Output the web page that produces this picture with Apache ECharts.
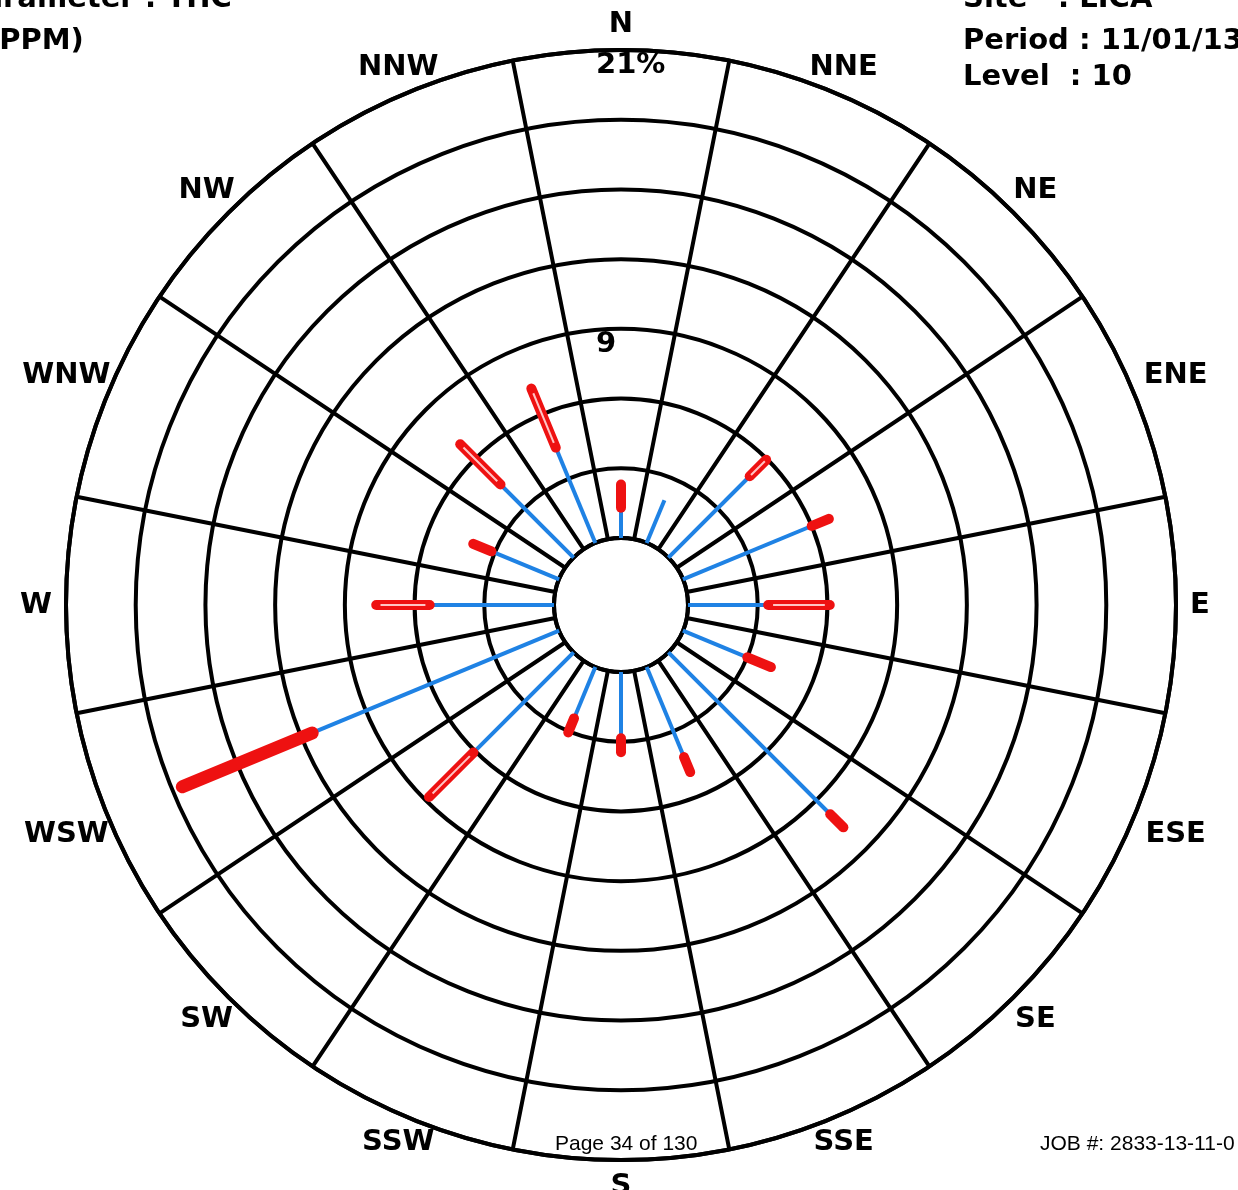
<!DOCTYPE html>
<html>
<head>
<meta charset="utf-8">
<script src="https://cdn.jsdelivr.net/npm/echarts@6/dist/echarts.min.js"></script>
<style>
  html, body { margin: 0; padding: 0; background: #fff; }
  #main { width: 1238px; height: 1190px; }
</style>
</head>
<body>
<div id="main"></div>
<script>
  // 16 sectors, N first, clockwise
  const directions = ['N', 'NNE', 'NE', 'ENE', 'E', 'ESE', 'SE', 'SSE', 'S', 'SSW', 'SW', 'WSW', 'W', 'WNW', 'NW', 'NNW'];
  // percent values (rings every 3%)
  const blueEnd = [1.3, 2.0, 4.95, 6.0, 3.45, 3.0, 9.85, 4.2, 2.85, 2.4, 6.1, 11.5, 5.35, 3.15, 4.45, 4.45];
  const redEnd = [2.3, 2.0, 5.95, 6.8, 6.1, 4.1, 10.65, 4.9, 3.45, 3.05, 8.8, 17.55, 7.65, 4.0, 6.9, 7.2];
  const redKind = ['solid', 'none', 'open', 'solid', 'open', 'solid', 'solid', 'solid', 'solid', 'solid', 'open', 'heavy', 'open', 'solid', 'open', 'open'];
  const ringTicks = [9, 21];
  const ringLabels = ['9', '21%'];

  const labelFont = 'bold 29px "DejaVu Sans"';
  const labelGap = 14; // px between rim and nearest edge of a direction label
  const measure = document.createElement('canvas').getContext('2d');
  measure.font = labelFont;

  const chart = echarts.init(document.getElementById('main'));

  const roseData = directions.map((d, i) => [i, blueEnd[i], redEnd[i]]);

  const option = {
    backgroundColor: '#fff',
    animation: false,
    polar: { center: [621, 605], radius: [67, 555] },
    angleAxis: {
      type: 'category',
      data: directions,
      startAngle: 101.25,
      clockwise: true,
      boundaryGap: true,
      axisLine: { lineStyle: { color: '#000', width: 4 } },
      axisTick: { show: false },
      axisLabel: { show: false },
      splitLine: { show: true, lineStyle: { color: '#000', width: 4 } }
    },
    radiusAxis: {
      min: 0,
      max: 21,
      interval: 3,
      axisLine: { show: false },
      axisTick: { show: false },
      axisLabel: { show: false },
      splitLine: { show: true, lineStyle: { color: '#000', width: 4 } }
    },
    series: [
      {
        type: 'custom',
        coordinateSystem: 'polar',
        data: roseData,
        encode: { angle: 0, radius: 2 },
        z: 5,
        renderItem(params, api) {
          const i = api.value(0);
          const b = api.value(1);
          const r = api.value(2);
          const p0 = api.coord([0, i]);
          const p1 = api.coord([b, i]);
          const p2 = api.coord([r, i]);
          const kids = [{
            type: 'line',
            shape: { x1: p0[0], y1: p0[1], x2: p1[0], y2: p1[1] },
            style: { stroke: '#1f82e4', lineWidth: 4 }
          }];
          const kind = redKind[i];
          if (kind !== 'none') {
            kids.push({
              type: 'line',
              shape: { x1: p1[0], y1: p1[1], x2: p2[0], y2: p2[1] },
              style: { stroke: '#ee1111', lineWidth: kind === 'heavy' ? 13 : 10, lineCap: 'round' }
            });
            if (kind === 'open') {
              kids.push({
                type: 'line',
                shape: { x1: p1[0] + (p2[0] - p1[0]) * 0.08, y1: p1[1] + (p2[1] - p1[1]) * 0.08,
                         x2: p2[0] - (p2[0] - p1[0]) * 0.08, y2: p2[1] - (p2[1] - p1[1]) * 0.08 },
                style: { stroke: '#ffc4c4', lineWidth: 2 }
              });
            }
          }
          return { type: 'group', children: kids };
        }
      },
      {
        // direction names round the rim
        type: 'custom',
        coordinateSystem: 'polar',
        data: directions.map((d, i) => [i, 21]),
        encode: { angle: 0, radius: 1 },
        z: 6,
        renderItem(params, api) {
          const cs = params.coordSys;
          const p = api.coord([api.value(1), api.value(0)]);
          const dx = (p[0] - cs.cx) / cs.r, dy = (p[1] - cs.cy) / cs.r;
          const text = directions[params.dataIndex];
          const hw = measure.measureText(text).width / 2, hh = 12;
          const ext = Math.min(Math.abs(dx) > 1e-6 ? hw / Math.abs(dx) : 1e9, Math.abs(dy) > 1e-6 ? hh / Math.abs(dy) : 1e9);
          const rr = cs.r + labelGap + ext;
          return {
            type: 'text',
            style: {
              x: cs.cx + dx * rr, y: cs.cy + dy * rr, text: text,
              align: 'center', verticalAlign: 'middle',
              font: labelFont, fill: '#000'
            }
          };
        }
      },
      {
        // ring value labels on the north spoke
        type: 'custom',
        coordinateSystem: 'polar',
        data: ringTicks.map(v => [0, v]),
        encode: { angle: 0, radius: 1 },
        z: 6,
        renderItem(params, api) {
          const p = api.coord([api.value(1), api.value(0)]);
          return {
            type: 'text',
            style: {
              x: p[0] - 25, y: p[1] + 1, text: ringLabels[params.dataIndex],
              align: 'left', verticalAlign: 'top',
              font: labelFont, fill: '#000'
            }
          };
        }
      }
    ],
    graphic: [
      { type: 'text', left: -37, top: -15, style: { text: 'Parameter : THC', font: labelFont, fill: '#000' } },
      { type: 'text', left: -14, top: 27, style: { text: '(PPM)', font: labelFont, fill: '#000' } },
      { type: 'text', left: 963, top: -15, style: { text: 'Site   : LICA', font: labelFont, fill: '#000' } },
      { type: 'text', left: 963, top: 27, style: { text: 'Period : 11/01/13-', font: labelFont, fill: '#000' } },
      { type: 'text', left: 963, top: 63, style: { text: 'Level  : 10', font: labelFont, fill: '#000' } },
      { type: 'text', left: 555, top: 1134, style: { text: 'Page 34 of 130', font: '21px "Liberation Sans"', fill: '#000' } },
      { type: 'text', left: 1040, top: 1134, style: { text: 'JOB #: 2833-13-11-0', font: '21px "Liberation Sans"', fill: '#000' } }
    ]
  };

  chart.setOption(option);
</script>
</body>
</html>
